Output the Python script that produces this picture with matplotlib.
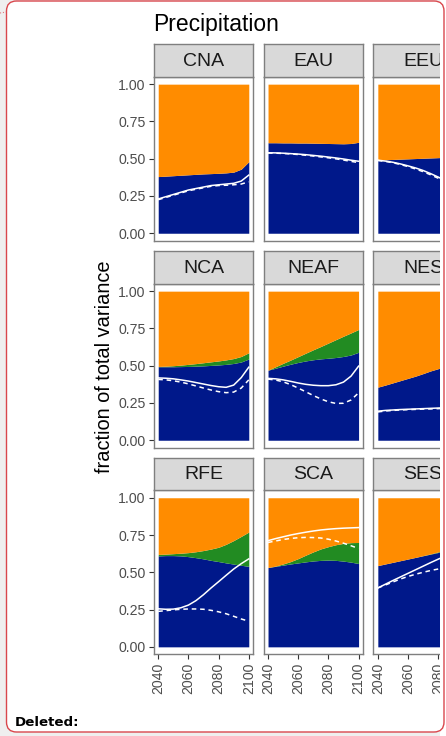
import matplotlib
matplotlib.use('Agg')
import matplotlib.pyplot as plt
from matplotlib.patches import FancyBboxPatch, Rectangle
from matplotlib.lines import Line2D

plt.rcParams['font.family'] = ['Liberation Sans', 'DejaVu Sans']

years = [2040, 2045, 2050, 2055, 2060, 2065, 2070, 2075, 2080, 2085, 2090, 2095, 2100]
regions = ['CNA', 'EAU', 'EEU', 'NCA', 'NEAF', 'NES', 'RFE', 'SCA', 'SES']

# top of the blue band (internal variability)
blue_top = {
    'CNA': [0.380, 0.383, 0.386, 0.389, 0.392, 0.395, 0.398, 0.400, 0.402, 0.405, 0.410, 0.430, 0.480],
    'EAU': [0.607, 0.607, 0.606, 0.606, 0.605, 0.605, 0.604, 0.603, 0.602, 0.601, 0.600, 0.602, 0.610],
    'EEU': [0.490, 0.493, 0.495, 0.497, 0.499, 0.501, 0.503, 0.505, 0.507, 0.509, 0.511, 0.513, 0.515],
    'NCA': [0.493, 0.493, 0.493, 0.494, 0.495, 0.497, 0.499, 0.502, 0.505, 0.509, 0.515, 0.525, 0.545],
    'NEAF': [0.470, 0.483, 0.497, 0.510, 0.522, 0.532, 0.540, 0.546, 0.550, 0.555, 0.562, 0.572, 0.590],
    'NES': [0.356, 0.370, 0.385, 0.400, 0.415, 0.430, 0.447, 0.465, 0.480, 0.495, 0.510, 0.525, 0.540],
    'RFE': [0.610, 0.612, 0.612, 0.610, 0.605, 0.598, 0.590, 0.580, 0.572, 0.563, 0.555, 0.547, 0.540],
    'SCA': [0.532, 0.540, 0.548, 0.556, 0.563, 0.570, 0.576, 0.580, 0.582, 0.580, 0.575, 0.568, 0.559],
    'SES': [0.545, 0.556, 0.567, 0.578, 0.589, 0.600, 0.611, 0.622, 0.633, 0.644, 0.655, 0.666, 0.677],
}
# top of the green band (scenario uncertainty)
green_top = {
    'CNA': [0.380, 0.383, 0.386, 0.389, 0.392, 0.395, 0.398, 0.400, 0.402, 0.405, 0.410, 0.430, 0.480],
    'EAU': [0.607, 0.607, 0.606, 0.606, 0.605, 0.605, 0.604, 0.603, 0.602, 0.601, 0.600, 0.602, 0.610],
    'EEU': [0.490, 0.493, 0.495, 0.497, 0.499, 0.501, 0.503, 0.505, 0.507, 0.509, 0.511, 0.513, 0.515],
    'NCA': [0.495, 0.497, 0.500, 0.504, 0.509, 0.514, 0.520, 0.526, 0.532, 0.539, 0.548, 0.562, 0.587],
    'NEAF': [0.470, 0.493, 0.516, 0.538, 0.561, 0.584, 0.607, 0.629, 0.652, 0.675, 0.698, 0.720, 0.743],
    'NES': [0.356, 0.370, 0.385, 0.400, 0.415, 0.430, 0.447, 0.465, 0.480, 0.495, 0.510, 0.525, 0.540],
    'RFE': [0.620, 0.622, 0.625, 0.628, 0.632, 0.638, 0.646, 0.656, 0.668, 0.688, 0.713, 0.741, 0.770],
    'SCA': [0.532, 0.542, 0.556, 0.572, 0.592, 0.615, 0.637, 0.657, 0.672, 0.685, 0.694, 0.699, 0.700],
    'SES': [0.545, 0.556, 0.567, 0.578, 0.589, 0.600, 0.612, 0.624, 0.637, 0.650, 0.664, 0.678, 0.692],
}
solid_line = {
    'CNA': [0.230, 0.245, 0.260, 0.275, 0.290, 0.300, 0.310, 0.320, 0.325, 0.330, 0.335, 0.350, 0.390],
    'EAU': [0.540, 0.539, 0.537, 0.534, 0.531, 0.527, 0.522, 0.517, 0.511, 0.505, 0.498, 0.490, 0.483],
    'EEU': [0.490, 0.484, 0.476, 0.465, 0.452, 0.438, 0.421, 0.400, 0.377, 0.352, 0.324, 0.293, 0.260],
    'NCA': [0.418, 0.416, 0.412, 0.405, 0.397, 0.387, 0.377, 0.367, 0.359, 0.355, 0.370, 0.420, 0.490],
    'NEAF': [0.415, 0.412, 0.405, 0.395, 0.384, 0.375, 0.369, 0.366, 0.366, 0.372, 0.390, 0.430, 0.497],
    'NES': [0.195, 0.200, 0.203, 0.206, 0.208, 0.210, 0.212, 0.214, 0.216, 0.218, 0.220, 0.222, 0.224],
    'RFE': [0.255, 0.252, 0.253, 0.262, 0.280, 0.310, 0.350, 0.395, 0.437, 0.480, 0.522, 0.558, 0.590],
    'SCA': [0.712, 0.726, 0.738, 0.750, 0.760, 0.769, 0.777, 0.784, 0.789, 0.793, 0.796, 0.798, 0.800],
    'SES': [0.395, 0.420, 0.445, 0.469, 0.493, 0.517, 0.541, 0.565, 0.588, 0.610, 0.631, 0.651, 0.670],
}
dashed_line = {
    'CNA': [0.225, 0.240, 0.255, 0.270, 0.285, 0.295, 0.305, 0.315, 0.320, 0.322, 0.325, 0.330, 0.345],
    'EAU': [0.538, 0.537, 0.535, 0.532, 0.528, 0.523, 0.518, 0.512, 0.506, 0.499, 0.491, 0.482, 0.474],
    'EEU': [0.488, 0.482, 0.473, 0.461, 0.447, 0.431, 0.413, 0.392, 0.369, 0.343, 0.314, 0.283, 0.250],
    'NCA': [0.408, 0.405, 0.399, 0.390, 0.378, 0.364, 0.350, 0.337, 0.326, 0.319, 0.323, 0.350, 0.405],
    'NEAF': [0.410, 0.404, 0.392, 0.373, 0.350, 0.325, 0.300, 0.277, 0.258, 0.247, 0.248, 0.270, 0.318],
    'NES': [0.190, 0.196, 0.200, 0.203, 0.205, 0.207, 0.209, 0.210, 0.212, 0.214, 0.216, 0.218, 0.220],
    'RFE': [0.238, 0.243, 0.248, 0.252, 0.254, 0.254, 0.252, 0.245, 0.235, 0.222, 0.205, 0.187, 0.172],
    'SCA': [0.700, 0.710, 0.720, 0.727, 0.732, 0.734, 0.733, 0.730, 0.722, 0.710, 0.695, 0.678, 0.660],
    'SES': [0.395, 0.415, 0.435, 0.455, 0.472, 0.487, 0.500, 0.512, 0.522, 0.531, 0.539, 0.546, 0.552],
}

x_ticks = [2040, 2060, 2080, 2100]
y_ticks = [0.0, 0.25, 0.5, 0.75, 1.0]

ORANGE = '#FF8C00'
BLUE = '#00188A'
GREEN = '#228B22'
BORDER = '#7f7f7f'

W, H = 446, 736
fig = plt.figure(figsize=(W / 100, H / 100), dpi=100)
fig.patch.set_facecolor('#efefef')

def px_rect(left, top, width, height):
    return [left / W, 1 - (top + height) / H, width / W, height / H]

# white comment box behind everything
box_fill = FancyBboxPatch((6.5 / 100, (H - 732) / 100), 600 / 100, 731 / 100,
                          boxstyle='round,pad=0,rounding_size=0.1',
                          transform=fig.dpi_scale_trans, facecolor='white',
                          edgecolor='none', zorder=-5)
fig.patches.append(box_fill)

col_left = [153.7, 263.5, 373.3]
row_top = [76.7, 283.7, 490.3]
pw, ph, sh = 99.6, 164.0, 32.7

for i, reg in enumerate(regions):
    r, c = divmod(i, 3)
    ax = fig.add_axes(px_rect(col_left[c], row_top[r], pw, ph))
    ax.fill_between(years, 0, blue_top[reg], color=BLUE, lw=0)
    ax.fill_between(years, blue_top[reg], green_top[reg], color=GREEN, lw=0)
    ax.fill_between(years, green_top[reg], 1, color=ORANGE, lw=0)
    ax.plot(years, solid_line[reg], color='white', lw=1.1)
    ax.plot(years, dashed_line[reg], color='white', lw=1.1, ls=(0, (3, 2.5)))
    ax.set_xlim(2037, 2103)
    ax.set_ylim(-0.05, 1.05)
    ax.set_facecolor('white')
    for s in ax.spines.values():
        s.set_color(BORDER)
        s.set_linewidth(1.0)
    ax.tick_params(direction='out', length=3.3, width=0.8, color='#333333',
                   labelcolor='#4d4d4d', labelsize=10.2, pad=2.5)
    ax.set_xticks(x_ticks)
    ax.set_yticks(y_ticks)
    if c == 0:
        ax.set_yticklabels(['%.2f' % v for v in y_ticks])
    else:
        ax.tick_params(axis='y', left=False, labelleft=False)
    if r == 2:
        ax.set_xticklabels([str(v) for v in x_ticks], rotation=90)
    else:
        ax.tick_params(axis='x', bottom=False, labelbottom=False)

    sax = fig.add_axes(px_rect(col_left[c], row_top[r] - sh, pw, sh))
    sax.set_facecolor('#d9d9d9')
    sax.set_xticks([])
    sax.set_yticks([])
    for s in sax.spines.values():
        s.set_color(BORDER)
        s.set_linewidth(1.0)
    sax.text(0.5, 0.47, reg, ha='center', va='center', fontsize=14,
             color='#1a1a1a', transform=sax.transAxes)

fig.text(153 / W, 1 - 30.5 / H, 'Precipitation', fontsize=16.5, ha='left',
         va='baseline', color='black')
fig.text(110 / W, 1 - 366.5 / H, 'fraction of total variance', fontsize=14.4,
         rotation=90, rotation_mode='anchor', ha='center', va='baseline',
         color='black')

# content is cut off before the right edge of the box
fig.patches.append(Rectangle((440 / W, 0), 10 / W, 1, transform=fig.transFigure,
                             facecolor='white', edgecolor='none', zorder=5))
fig.patches.append(Rectangle((0, 0), 6.5 / W, 1, transform=fig.transFigure,
                             facecolor='#efefef', edgecolor='none', zorder=5))

box_edge = FancyBboxPatch((6.5 / 100, (H - 732) / 100), 437.5 / 100, 731 / 100,
                          boxstyle='round,pad=0,rounding_size=0.1',
                          transform=fig.dpi_scale_trans, facecolor='none',
                          edgecolor='#d9474d', lw=1.0, zorder=6)
fig.patches.append(box_edge)
fig.lines.append(Line2D([0, 6.5 / W], [1 - 13 / H, 1 - 12 / H], transform=fig.transFigure,
                        color='#e07a7e', lw=0.8, ls=':', zorder=6))

fig.text(15 / W, 1 - 726 / H, 'Deleted:', fontsize=9.6, fontweight='bold',
         family='DejaVu Sans', ha='left', va='baseline', color='black', zorder=7)

fig.savefig('out.png', dpi=100, facecolor=fig.get_facecolor())
